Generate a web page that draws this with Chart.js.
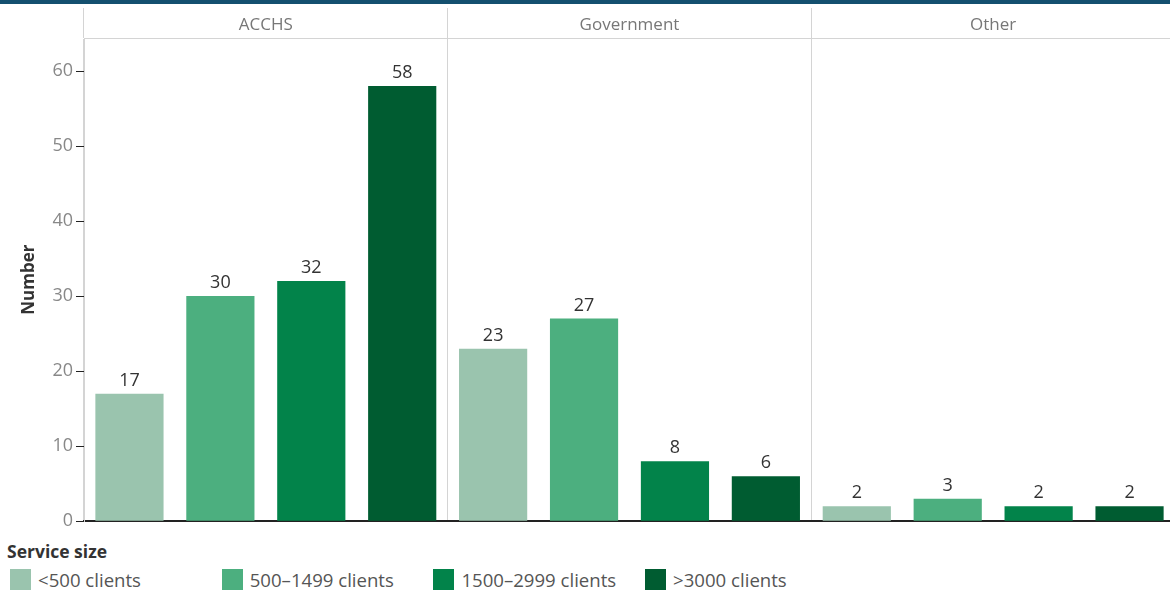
<!DOCTYPE html>
<html>
<head>
<meta charset="utf-8">
<script src="https://cdn.jsdelivr.net/npm/chart.js@4"></script>
<style>
    body { margin: 0; width: 1170px; height: 592px; overflow: hidden; position: relative; background: #fff; font-family: "Open Sans", sans-serif; }
    #topBar { position: absolute; left: 0; top: 0; width: 1170px; height: 4px; background: #14506f; z-index: 2; }
    #chartWrap { position: absolute; left: 0; top: 0; width: 1176px; height: 535px; }
    #legend { position: absolute; left: 0; top: 538px; width: 1170px; z-index: 2; }
    #legendTitle { position: absolute; left: 7px; top: 1px; font-weight: bold; font-size: 17.5px; color: #333; }
    .legendItem { position: absolute; top: 30px; height: 22px; display: flex; align-items: center; font-size: 18.6px; color: #555; }
    .swatch { width: 21px; height: 21px; margin-right: 7px; }
</style>
</head>
<body>
<div id="topBar"></div>
<div id="chartWrap"><canvas id="serviceChart"></canvas></div>
<div id="legend"><div id="legendTitle">Service size</div></div>

<script>
// Data
const sectors = ['ACCHS', 'Government', 'Other'];
const sizeLabels = ['<500 clients', '500–1499 clients', '1500–2999 clients', '>3000 clients'];
const under500 = [17, 23, 2];
const from500to1499 = [30, 27, 3];
const from1500to2999 = [32, 8, 2];
const over3000 = [58, 6, 2];
const sizeColors = ['#9ac4ae', '#4caf7f', '#02834a', '#005c31'];
const yTicks = [0, 10, 20, 30, 40, 50, 60];

const seriesValues = [under500, from500to1499, from1500to2999, over3000];

// Value labels above the bars
const barLabels = {
    id: 'barLabels',
    afterDatasetsDraw(chart) {
        const ctx = chart.ctx;
        ctx.save();
        ctx.font = '18px "Open Sans"';
        ctx.fillStyle = '#333';
        ctx.textAlign = 'center';
        ctx.textBaseline = 'bottom';
        chart.data.datasets.forEach((ds, i) => {
            chart.getDatasetMeta(i).data.forEach((bar, j) => {
                ctx.fillText(ds.data[j], bar.x, bar.y - 4);
            });
        });
        ctx.restore();
    }
};

const ctx = document.getElementById('serviceChart').getContext('2d');
new Chart(ctx, {
    type: 'bar',
    data: {
        labels: sectors,
        datasets: seriesValues.map((vals, i) => ({
            label: sizeLabels[i],
            data: vals,
            backgroundColor: sizeColors[i],
            categoryPercentage: 1,
            barPercentage: 0.75
        }))
    },
    options: {
        responsive: true,
        maintainAspectRatio: false,
        animation: false,
        layout: { padding: { top: 8, right: 1, left: 0, bottom: 0 } },
        plugins: {
            legend: { display: false },
            tooltip: { enabled: false }
        },
        scales: {
            x: {
                position: 'bottom',
                ticks: { display: false },
                grid: { display: false },
                border: { color: '#222', width: 2 },
                afterFit: s => { s.height = 5; }
            },
            xTop: {
                type: 'category',
                position: 'top',
                labels: sectors,
                offset: true,
                grid: {
                    offset: true,
                    drawOnChartArea: true,
                    drawTicks: true,
                    tickLength: 30,
                    color: c => c.index === 3 ? 'rgba(0,0,0,0)' : '#d4d4d4'
                },
                border: { color: '#d4d4d4' },
                ticks: {
                    color: '#777',
                    font: { family: 'Open Sans', size: 17 },
                    padding: -27,
                    maxRotation: 0
                },
                afterFit: s => { s.height = 30; }
            },
            y: {
                min: 0,
                max: 64.4,
                afterBuildTicks: s => { s.ticks = yTicks.map(v => ({ value: v })); },
                ticks: {
                    color: '#888',
                    font: { family: 'Open Sans', size: 18 },
                    padding: 3,
                    includeBounds: false
                },
                grid: {
                    drawOnChartArea: false,
                    drawTicks: true,
                    tickLength: 8,
                    color: '#222'
                },
                border: { color: '#d4d4d4' },
                title: {
                    display: true,
                    text: 'Number',
                    color: '#333',
                    font: { family: 'Open Sans', size: 17, weight: 'bold' },
                    padding: { top: 19, bottom: 0 }
                },
                afterFit: s => { s.width = 84; }
            }
        }
    },
    plugins: [barLabels]
});

// HTML legend
const legend = document.getElementById('legend');
sizeLabels.forEach((label, i) => {
    const item = document.createElement('div');
    item.className = 'legendItem';
    item.style.left = (10 + i * 211.7) + 'px';
    item.innerHTML = `<div class="swatch" style="background:${sizeColors[i]}"></div><span>${label}</span>`;
    legend.appendChild(item);
});
</script>
</body>
</html>
